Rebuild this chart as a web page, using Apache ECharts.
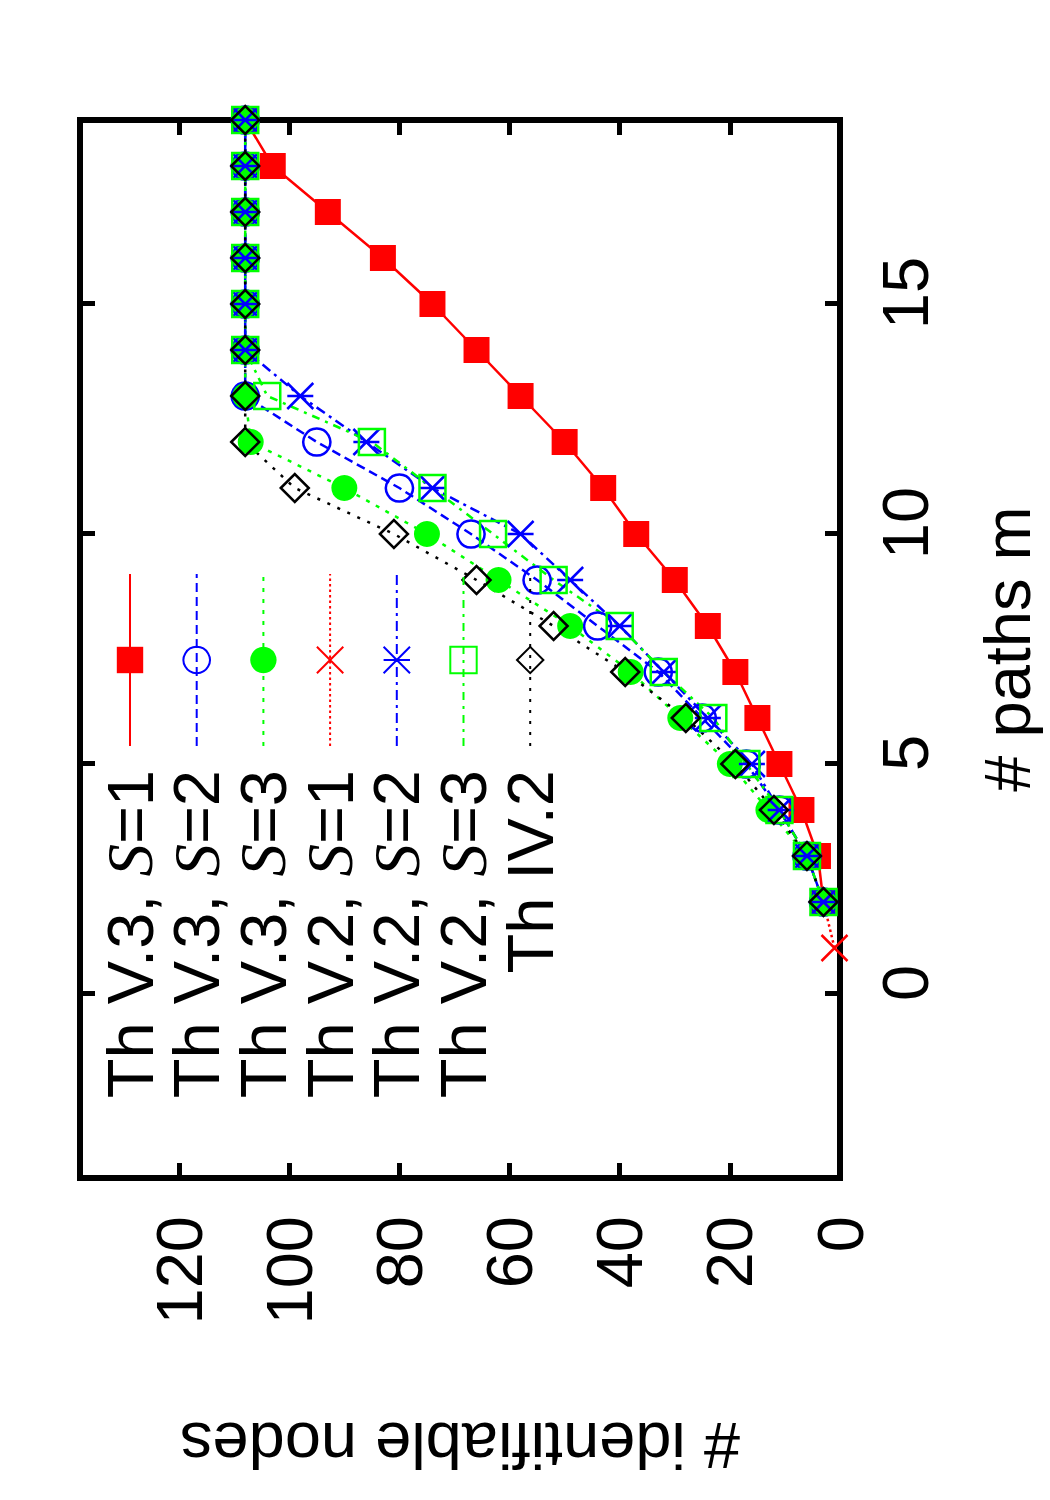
<!DOCTYPE html>
<html>
<head>
<meta charset="utf-8">
<script src="https://cdn.jsdelivr.net/npm/echarts@6/dist/echarts.min.js"></script>
<style>
html, body { margin: 0; padding: 0; overflow: hidden; background: #fff; width: 1050px; height: 1500px; }
/* the gnuplot figure is printed sideways: draw it upright, then turn the box */
#main { position: absolute; left: 0; top: 0; width: 1500px; height: 1050px;
        transform-origin: 0 0; transform: translate(0, 1500px) rotate(-90deg); }
</style>
</head>
<body>
<div id="main"></div>
<script>
// # paths m
var paths = [2, 3, 4, 5, 6, 7, 8, 9, 10, 11, 12, 13, 14, 15, 16, 17, 18, 19];
var pathsV2S1 = [1, 2];

// # identifiable nodes
var thV3S1 = [3, 4, 7, 11, 15, 19, 24, 30, 37, 43, 50, 58, 66, 74, 83, 93, 103, 108];
var thV3S2 = [3, 6, 11, 17, 25, 33, 44, 55, 67, 80, 95, 108, 108, 108, 108, 108, 108, 108];
var thV3S3 = [3, 6, 13, 20, 29, 38, 49, 62, 75, 90, 107, 108, 108, 108, 108, 108, 108, 108];
var thV2S1 = [1, 3];
var thV2S2 = [3, 6, 11, 16, 24, 32, 40, 49, 58, 74, 86, 98, 108, 108, 108, 108, 108, 108];
var thV2S3 = [3, 6, 11, 17, 23, 32, 40, 52, 63, 74, 85, 104, 108, 108, 108, 108, 108, 108];
var thIV2  = [3, 6, 12, 19, 28, 39, 52, 66, 81, 99, 108, 108, 108, 108, 108, 108, 108, 108];

var names = ['Th V.3, S=1', 'Th V.3, S=2', 'Th V.3, S=3', 'Th V.2, S=1',
             'Th V.2, S=2', 'Th V.2, S=3', 'Th IV.2'];
var mTicks = [0, 5, 10, 15];
var nodeTicks = [0, 20, 40, 60, 80, 100, 120];

function pairs(xs, ys) {
    return xs.map(function (x, i) { return [x, ys[i]]; });
}

var FONT = 'Liberation Sans';
var NONE = 'rgba(0,0,0,0)';
var RED = '#ff0000', BLUE = '#0000ff', GREEN = '#00ff00', BLACK = '#000000';

function line(name, xs, ys, symbol, size, fill, stroke, dash) {
    return {
        name: name,
        type: 'line',
        data: pairs(xs, ys),
        clip: false,
        symbol: symbol,
        symbolSize: size,
        itemStyle: { color: fill, borderColor: stroke, borderWidth: fill === NONE ? 2.5 : 0 },
        lineStyle: { color: stroke, width: 2.5, type: dash },
        emphasis: { disabled: true }
    };
}

var series = [
    line(names[0], paths, thV3S1, 'rect', 26, RED, RED, 'solid'),
    line(names[1], paths, thV3S2, 'circle', 27, NONE, BLUE, [9, 5]),
    line(names[2], paths, thV3S3, 'circle', 26, GREEN, GREEN, [4, 7]),
    line(names[3], pathsV2S1, thV2S1, 'path://M0,0L10,10M10,0L0,10', 26, NONE, RED, [2.5, 3]),
    line(names[4], paths, thV2S2, 'path://M5,0L5,10M0,0L10,10M10,0L0,10', 26, NONE, BLUE, [10, 5, 3, 5]),
    line(names[5], paths, thV2S3, 'rect', 26, NONE, GREEN, [8, 6, 3, 6]),
    line(names[6], paths, thIV2, 'diamond', 28, NONE, BLACK, [3, 8])
];

// gnuplot style key: right-justified text, sample line to the right
var legends = names.map(function (n, i) {
    return {
        data: [n],
        orient: 'vertical',
        align: 'right',
        right: 573,
        top: 130 + 66.7 * i - 32.5,
        padding: 0,
        itemWidth: 172,
        itemHeight: 33,
        selectedMode: false,
        formatter: function (name) { return name.replace('S=', '{s|S}='); },
        textStyle: {
            fontFamily: FONT, fontSize: 65, lineHeight: 65, color: BLACK,
            padding: [0, 19, 0, 0],
            rich: { s: { fontFamily: 'Liberation Serif', fontStyle: 'italic', fontSize: 65, lineHeight: 65, color: BLACK } }
        }
    };
});

var labelFont = { fontFamily: FONT, fontSize: 65, lineHeight: 65, color: BLACK };
var tick = function (vals) {
    return { inside: true, length: 15, lineStyle: { color: BLACK, width: 5 }, customValues: vals };
};

var myChart = echarts.init(document.getElementById('main'), null, { renderer: 'svg', width: 1500, height: 1050 });

var option = {
    backgroundColor: '#fff',
    animation: false,
    grid: { left: 322, right: 120, top: 80, bottom: 210, show: true, borderColor: BLACK, borderWidth: 6, backgroundColor: 'transparent' },
    legend: legends,
    xAxis: [{
        type: 'value', min: -4, max: 19, position: 'bottom',
        name: '# paths m', nameLocation: 'middle', nameGap: 135,
        nameTextStyle: labelFont,
        axisLine: { show: false, onZero: false },
        splitLine: { show: false },
        axisTick: tick(mTicks),
        axisLabel: Object.assign({ margin: 33, customValues: mTicks, padding: [0, 0, 0, 22] }, labelFont)
    }, {
        type: 'value', min: -4, max: 19, position: 'top',
        axisLine: { show: false, onZero: false }, splitLine: { show: false }, axisLabel: { show: false },
        axisTick: tick(mTicks)
    }],
    yAxis: [{
        type: 'value', min: 0, max: 138, position: 'left',
        name: '# identifiable nodes', nameLocation: 'middle', nameGap: 235,
        nameTextStyle: labelFont,
        axisLine: { show: false, onZero: false },
        splitLine: { show: false },
        axisTick: tick(nodeTicks),
        axisLabel: Object.assign({ margin: 38, customValues: nodeTicks }, labelFont)
    }, {
        type: 'value', min: 0, max: 138, position: 'right',
        axisLine: { show: false, onZero: false }, splitLine: { show: false }, axisLabel: { show: false },
        axisTick: tick(nodeTicks)
    }],
    series: series
};

myChart.setOption(option);
</script>
</body>
</html>
